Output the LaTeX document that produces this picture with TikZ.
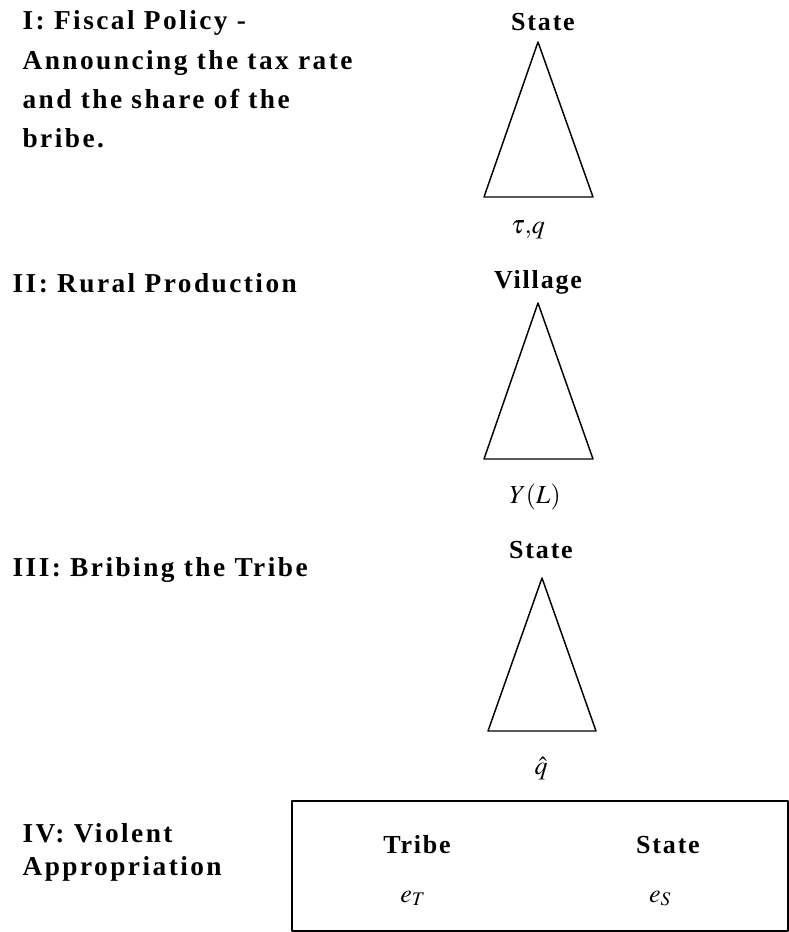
\documentclass[tikz,border=0pt]{standalone}
\usepackage{mathptmx}
\usepackage[no-math]{fontspec}
\setmainfont{Liberation Serif}[BoldFeatures={LetterSpace=7}]
\newfontfamily\stagefont{Liberation Serif}[BoldFeatures={LetterSpace=9}]

\begin{document}
\begin{tikzpicture}[x=0.75pt,y=-0.75pt,line cap=round,line join=round,
  every node/.style={inner sep=1pt},
  stage/.style={anchor=base west,font=\stagefont\bfseries\fontsize{20.5}{24}\selectfont},
  player/.style={anchor=base,font=\bfseries\fontsize{19.5}{24}\selectfont},
  move/.style={anchor=base,font=\fontsize{19.5}{24}\selectfont}]
  \useasboundingbox (0,0) rectangle (789,932);
  % stages, left column
  \foreach \yb/\txt [count=\i] in {29/{I: Fiscal Policy -},69/{Announcing the tax rate},108/{and the share of the},147/{bribe.}}
    \node[stage] (fisc\i) at (21,\yb) {\txt};
  \node[stage] (rural) at (11,292) {II: Rural Production};
  \node[stage] (bribe) at (11,576) {III: Bribing the Tribe};
  \node[stage] (viol1) at (21,842) {IV: Violent};
  \node[stage] (viol2) at (21,875) {Appropriation};
  % one tree per stage
  \foreach \ax/\ay/\bl/\br/\by/\nm in {538/42/484/593/197/tri1,538/303/484/593/459/tri2,542/578/488/596/731/tri3}{
    \coordinate (\nm-top) at (\ax,\ay);
    \draw[line width=1.1pt] (\nm-top) -- (\br,\by) -- (\bl,\by) -- cycle;
  }
  \node[player] (state1) at (543,30) {State};
  \node[player] (village) at (538,288) {Village};
  \node[player] (state2) at (541,558) {State};
  \node[move] (taxq) at (528,233) {$\tau{,}q$};
  \node[move] (output) at (535,503) {$Y(L)$};
  \node[move] (qhat) at (541,774) {$\hat{q}$};
  % simultaneous move
  \draw[line width=1.3pt] (292,801) rectangle (788,931);
  \node[player] (tribe) at (417,853) {Tribe};
  \node[player] (state3) at (668,853) {State};
  \node[move] (effT) at (413,902) {$e_T$};
  \node[move] (effS) at (660,902) {$e_S$};
\end{tikzpicture}
\end{document}
